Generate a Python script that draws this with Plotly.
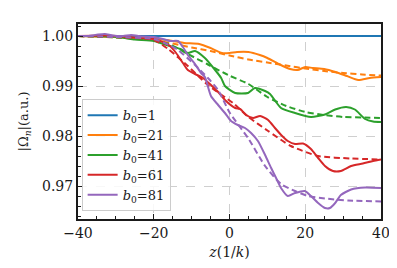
import plotly.graph_objects as go

# ---- data ----
b0_labels = ["1", "21", "41", "61", "81"]
colors = ["#1f77b4", "#ff7f0e", "#2ca02c", "#d62728", "#9467bd"]

z_b1 = [-40, -20, 0, 20, 40]
om_b1 = [1.0, 1.0, 1.0, 1.0, 1.0]
z_b1_fit = [-40, -20, 0, 20, 40]
om_b1_fit = [1.0, 1.0, 1.0, 1.0, 1.0]

z_b21 = [-40, -30, -20, -15, -12, -8, -5, -2, 0, 2, 5, 8, 10, 13, 16, 18, 20, 22, 25, 28, 31, 34, 37, 40]
om_b21 = [1.0, 0.9998, 0.9995, 0.999, 0.9986, 0.9984, 0.9976, 0.9966, 0.9966, 0.9968, 0.9968, 0.9962,
          0.9956, 0.9944, 0.9934, 0.9932, 0.9938, 0.9936, 0.9934, 0.9928, 0.992, 0.9912, 0.9916, 0.9918]
z_b21_fit = [-40, -30, -20, -15, -10, -5, 0, 5, 10, 15, 20, 25, 30, 35, 40]
om_b21_fit = [1.0, 0.9997, 0.9992, 0.9985, 0.9977, 0.997, 0.9961, 0.9953, 0.9947, 0.9941, 0.9935, 0.993,
              0.9926, 0.9923, 0.9921]

z_b41 = [-40, -29.4, -25, -20, -16.2, -13, -11, -9.1, -6.5, -3.8, -2.2, -1.2, 1.5, 4.9, 6.7, 9.4, 10.7,
         13.6, 17.3, 21.5, 25.2, 27.9, 30.8, 33.1, 35.8, 37.9, 40]
om_b41 = [1.0, 0.9998, 0.9993, 0.999, 0.9981, 0.9974, 0.9966, 0.997, 0.9956, 0.9932, 0.9916, 0.99,
          0.9886, 0.9886, 0.9896, 0.989, 0.9884, 0.9856, 0.9846, 0.9838, 0.9843, 0.9853, 0.9858, 0.9853,
          0.9834, 0.9829, 0.9828]
z_b41_fit = [-40, -30, -20, -16, -11, -5.7, -0.4, 5, 10, 15, 20, 25, 30, 35, 40]
om_b41_fit = [1.0, 0.9997, 0.9991, 0.9984, 0.9964, 0.9943, 0.9922, 0.9904, 0.9878, 0.986, 0.9848,
              0.9842, 0.9838, 0.9837, 0.9836]

z_b61 = [-40, -32, -24, -20, -17.6, -15.7, -14.1, -12.3, -11, -9.1, -7, -4.9, -3, -1.2, 1.5, 2.8, 4.4,
         6.2, 8.1, 10.2, 12, 13.9, 15.4, 17.3, 19.4, 21.5, 23.4, 25.2, 27.3, 29.4, 32.1, 35.2, 37.9, 40]
om_b61 = [1.0, 1.0001, 0.9996, 0.9994, 0.9988, 0.998, 0.9966, 0.9946, 0.9932, 0.9924, 0.9916, 0.9902,
          0.9888, 0.9872, 0.9856, 0.9854, 0.9842, 0.9836, 0.984, 0.9832, 0.9816, 0.98, 0.979, 0.9784,
          0.9785, 0.9774, 0.9756, 0.974, 0.973, 0.973, 0.974, 0.9745, 0.975, 0.9753]
z_b61_fit = [-40, -30, -20, -16.2, -11, -5.7, 0.9, 5, 10.2, 16.2, 23.4, 32.1, 40]
om_b61_fit = [1.0, 0.9998, 0.9992, 0.9974, 0.994, 0.9902, 0.9866, 0.9838, 0.981, 0.978, 0.976, 0.9755,
              0.9753]

z_b81 = [-40, -37.4, -34.7, -32.9, -30.8, -28.1, -26, -22.8, -20, -17.6, -15.7, -13.6, -12.3, -11, -9.1,
         -7.5, -6.5, -4.9, -3, -1.2, 0.4, 2.2, 4.1, 5.7, 7.5, 9.4, 11, 12.3, 13.6, 15.4, 17.3, 19.9, 21.5,
         23.4, 25.2, 26.5, 27.9, 29.4, 32.1, 35.8, 40]
om_b81 = [1.0, 1.0, 1.0003, 1.0004, 1.0001, 1.0, 1.0002, 0.9999, 0.9998, 0.9994, 0.999, 0.999, 0.9978,
          0.9962, 0.9944, 0.9926, 0.9918, 0.988, 0.9862, 0.9846, 0.983, 0.9822, 0.9816, 0.9806, 0.979,
          0.9762, 0.9736, 0.9716, 0.9696, 0.968, 0.9686, 0.969, 0.968, 0.9666, 0.9656, 0.9656, 0.9666,
          0.9682, 0.9693, 0.9697, 0.9696]
z_b81_fit = [-40, -30, -20, -16.2, -13.6, -9.1, -5.7, -3, 0.1, 4.9, 9.4, 13.6, 17.3, 20.7, 25.2, 31.3, 40]
om_b81_fit = [1.0, 0.9998, 0.9994, 0.9983, 0.9972, 0.9942, 0.9916, 0.9892, 0.9846, 0.9796, 0.974, 0.9704,
              0.969, 0.968, 0.9675, 0.9671, 0.9669]

series = [
    (z_b1, om_b1, z_b1_fit, om_b1_fit),
    (z_b21, om_b21, z_b21_fit, om_b21_fit),
    (z_b41, om_b41, z_b41_fit, om_b41_fit),
    (z_b61, om_b61, z_b61_fit, om_b61_fit),
    (z_b81, om_b81, z_b81_fit, om_b81_fit),
]

x_ticks = [-40, -20, 0, 20, 40]
y_ticks = [0.97, 0.98, 0.99, 1.00]

SERIF = "DejaVu Serif"

fig = go.Figure()
for lab, col, (zs, oms, zf, omf) in zip(b0_labels, colors, series):
    fig.add_trace(go.Scatter(
        x=zs, y=oms, mode="lines", name=f"<i>b</i><sub>0</sub>={lab}",
        line=dict(color=col, width=2, shape="spline", smoothing=0.6),
    ))
    fig.add_trace(go.Scatter(
        x=zf, y=omf, mode="lines", showlegend=False,
        line=dict(color=col, width=2, dash="6px,3.5px", shape="spline", smoothing=0.6),
    ))

axis_common = dict(
    showline=True, linecolor="#1a1a1a", linewidth=2, mirror=True,
    ticks="inside", ticklen=5, tickwidth=1.3, tickcolor="#1a1a1a",
    showgrid=True, gridcolor="#cfcfcf", griddash="dash", gridwidth=1,
    zeroline=False,
    tickfont=dict(family=SERIF, size=14, color="#1a1a1a"),
)

fig.update_xaxes(
    range=[-40, 40], tickvals=x_ticks, ticktext=["\u2212" + str(-v) if v < 0 else str(v) for v in x_ticks],
    minor=dict(dtick=5, tick0=0, ticks="inside", ticklen=3, tickwidth=1, tickcolor="#1a1a1a", showgrid=False),
    title=dict(text="<i>z</i>(1/<i>k</i>)", font=dict(family=SERIF, size=14, color="#1a1a1a"), standoff=7),
    **axis_common,
)
fig.update_yaxes(
    range=[0.9634, 1.0024], tickvals=y_ticks, ticktext=[f"{v:.2f}" for v in y_ticks],
    minor=dict(dtick=0.002, tick0=0.97, ticks="inside", ticklen=3, tickwidth=1, tickcolor="#1a1a1a", showgrid=False),
    title=dict(text="|\u03a9<sub><i>n</i></sub>|(a.u.)", font=dict(family=SERIF, size=13, color="#1a1a1a"), standoff=10),
    **axis_common,
)

fig.update_layout(
    width=397, height=268,
    margin=dict(l=70, r=24, t=16, b=57),
    paper_bgcolor="white", plot_bgcolor="white",
    font=dict(family=SERIF),
    showlegend=True,
    legend=dict(
        x=0.012, y=0.04, xanchor="left", yanchor="bottom",
        bgcolor="rgba(255,255,255,0.85)", bordercolor="#cccccc", borderwidth=1,
        font=dict(family=SERIF, size=13, color="#1a1a1a"),
        itemwidth=30, tracegroupgap=0,
    ),
)

fig.write_html("out.html")
